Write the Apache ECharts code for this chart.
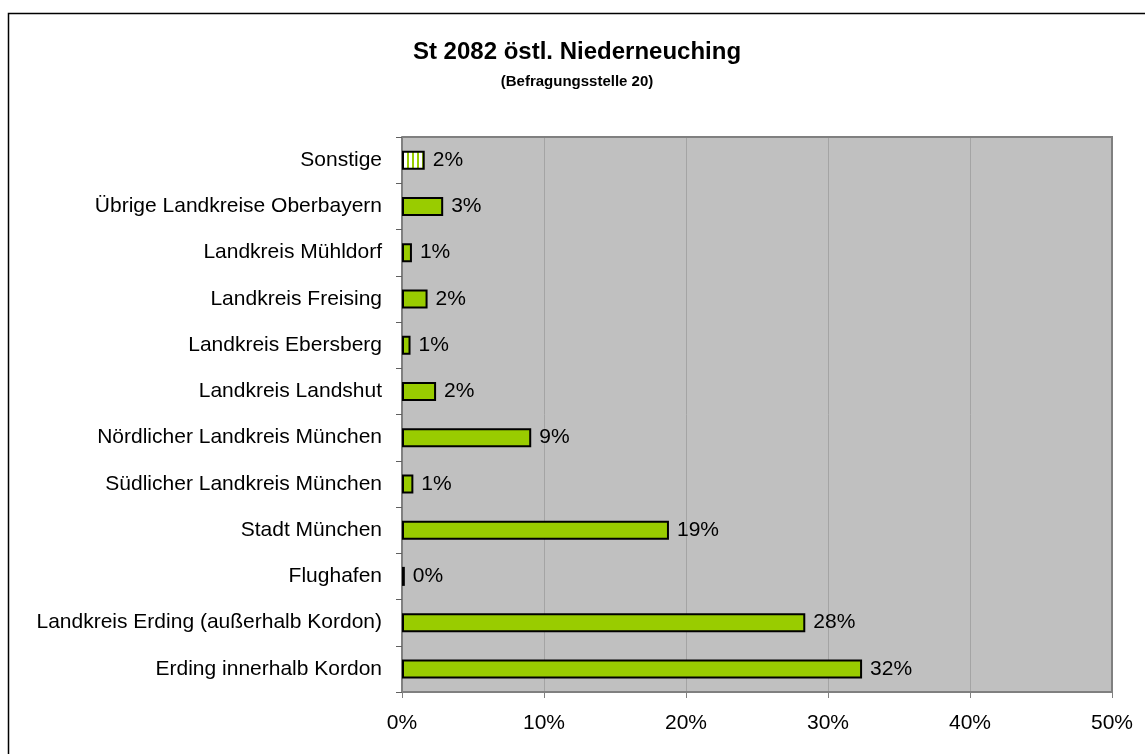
<!DOCTYPE html>
<html><head><meta charset="utf-8">
<script src="https://cdn.jsdelivr.net/npm/echarts@6/dist/echarts.min.js"></script>
<style>html,body{margin:0;padding:0;background:#fff}#c{width:1145px;height:754px}</style>
</head><body><div id="c"></div>
<script>
var categories = ["Erding innerhalb Kordon","Landkreis Erding (außerhalb Kordon)","Flughafen","Stadt München","Südlicher Landkreis München","Nördlicher Landkreis München","Landkreis Landshut","Landkreis Ebersberg","Landkreis Freising","Landkreis Mühldorf","Übrige Landkreise Oberbayern","Sonstige"];
var values = [32.4, 28.4, 0.2, 18.8, 0.8, 9.1, 2.4, 0.6, 1.8, 0.7, 2.9, 1.6];
var xTicks = [0,10,20,30,40,50];
var titleText = "St 2082 östl. Niederneuching";
var subtitleText = "(Befragungsstelle 20)";

var pc = document.createElement('canvas'); pc.width = 5; pc.height = 4;
var pctx = pc.getContext('2d');
pctx.fillStyle = '#ffffff'; pctx.fillRect(0,0,5,4);
pctx.fillStyle = '#99cc00'; pctx.fillRect(2,0,2,4);

var data = values.map(function(v,i){
  var d = {value: v};
  if (categories[i] === 'Sonstige') d.itemStyle = {color: {image: pc, repeat: 'repeat'}};
  return d;
});

var FF = 'Liberation Sans, Arial, sans-serif';
var chart = echarts.init(document.getElementById('c'), null, {renderer:'canvas'});
chart.setOption({
  animation:false,
  textStyle:{fontFamily:FF},
  graphic:[
    {type:'rect', shape:{x:8.5,y:13.5,width:1150,height:760}, style:{fill:'none', stroke:'#000', lineWidth:1.5}, z:-1},
    {type:'text', x:577, y:40, style:{text:titleText, font:'bold 24px Liberation Sans, Arial', fill:'#000', textAlign:'center'}},
    {type:'text', x:577, y:74, style:{text:subtitleText, font:'bold 15px Liberation Sans, Arial', fill:'#000', textAlign:'center'}},
    {type:'polyline', shape:{points:[[402,137],[1112,137],[1112,692]]}, style:{stroke:'#808080', lineWidth:2, fill:'none'}, z:10}
  ],
  grid:{left:402, right:33, top:137, bottom:62, backgroundColor:'#c0c0c0', show:true, borderWidth:0},
  xAxis:{type:'value', min:xTicks[0], max:xTicks[xTicks.length-1], interval:10,
    axisLine:{show:true, lineStyle:{color:'#808080', width:2}},
    axisTick:{show:true, length:6, lineStyle:{color:'#808080'}},
    splitLine:{show:true, lineStyle:{color:'#a4a4a4', width:1}},
    axisLabel:{formatter:function(v){return v+'%';}, color:'#000', fontSize:21, margin:21, fontFamily:FF}
  },
  yAxis:{type:'category', data:categories,
    axisLine:{show:true, lineStyle:{color:'#808080', width:2}},
    axisTick:{show:true, length:6, lineStyle:{color:'#606060'}},
    axisLabel:{color:'#000', fontSize:21, margin:20, fontFamily:FF}
  },
  series:[{type:'bar', data:data, barWidth:19,
    itemStyle:{color:'#99cc00', borderColor:'#000', borderWidth:2},
    label:{show:true, position:'right', distance:8, color:'#000', fontSize:21, fontFamily:FF,
      formatter:function(p){return Math.round(p.value)+'%';}}
  }]
});
</script></body></html>
